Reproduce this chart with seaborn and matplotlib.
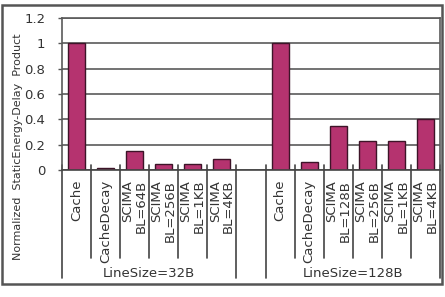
import matplotlib
matplotlib.use("Agg")
import matplotlib.pyplot as plt
import matplotlib.transforms as mtransforms
from matplotlib.patches import Rectangle
import seaborn as sns
import pandas as pd

# ---- data ----
groups = ["LineSize=32B", "LineSize=128B"]
categories_32 = ["Cache", "CacheDecay", "SCIMA\nBL=64B", "SCIMA\nBL=256B",
                 "SCIMA\nBL=1KB", "SCIMA\nBL=4KB"]
values_32 = [1.0, 0.012, 0.15, 0.047, 0.047, 0.084]
categories_128 = ["Cache", "CacheDecay", "SCIMA\nBL=128B", "SCIMA\nBL=256B",
                  "SCIMA\nBL=1KB", "SCIMA\nBL=4KB"]
values_128 = [1.0, 0.065, 0.35, 0.23, 0.23, 0.40]
y_ticks = [0, 0.2, 0.4, 0.6, 0.8, 1.0, 1.2]
y_tick_labels = ["0", "0.2", "0.4", "0.6", "0.8", "1", "1.2"]
y_label = "Normalized  StaticEnergy-Delay  Product"

# build table (unique keys per slot, with an empty slot between groups)
keys, labels, vals = [], [], []
for c, v in zip(categories_32, values_32):
    keys.append("32|" + c); labels.append(c); vals.append(v)
gap_key = "gap"
for c, v in zip(categories_128, values_128):
    keys.append("128|" + c); labels.append(c); vals.append(v)
df = pd.DataFrame({"key": keys, "label": labels, "value": vals})
order = keys[:len(categories_32)] + [gap_key] + keys[len(categories_32):]
order_labels = labels[:len(categories_32)] + [""] + labels[len(categories_32):]

sns.set_style("white")
plt.rcParams["font.family"] = ["DejaVu Sans"]

W, H = 445, 297
fig = plt.figure(figsize=(W / 100, H / 100), dpi=100)
ax = fig.add_axes([62 / W, 1 - 170 / H, (440 - 62) / W, (170 - 18) / H])

bar_color = "#B5336F"
sns.barplot(data=df, x="key", y="value", order=order, color=bar_color,
            width=0.58, edgecolor="#3d1428", linewidth=1.0, saturation=1,
            ax=ax)

ax.set_xlim(-0.5, len(order) - 0.5)
ax.set_ylim(0, 1.2)
ax.set_yticks(y_ticks)
ax.set_yticklabels(y_tick_labels, fontsize=9.5, color="#333333")
ax.yaxis.grid(True, color="#5a5a5a", linewidth=1.2)
ax.set_axisbelow(True)
ax.tick_params(axis="y", length=3, width=1, color="#555555", pad=9, left=True)
ax.set_xlabel("")
ax.set_ylabel("")

ax.set_xticks(range(len(order)))
ax.set_xticklabels(order_labels, rotation=90, va="top", ha="center",
                   multialignment="right", fontsize=9.5, color="#333333",
                   linespacing=1.05)
ax.tick_params(axis="x", length=0, pad=7)

for s in ax.spines.values():
    s.set_color("#5a5a5a")
    s.set_linewidth(1.2)
ax.spines["bottom"].set_color("#444444")

# category separator lines
trans = mtransforms.blended_transform_factory(ax.transData, ax.transAxes)
gap_idx = len(categories_32)
long_bounds = {-0.5, gap_idx - 0.5, gap_idx + 0.5, len(order) - 0.5}
for i in range(len(order) + 1):
    b = i - 0.5
    low = -0.711 if b in long_bounds else -0.579
    ax.plot([b, b], [0.035, low], transform=trans, color="#444444",
            linewidth=1.2, clip_on=False)

# group labels
centers = [(len(categories_32) - 1) / 2,
           gap_idx + 1 + (len(categories_128) - 1) / 2]
for g, cx in zip(groups, centers):
    ax.text(cx, -0.678, g, transform=trans, ha="center", va="center",
            fontsize=9.5, color="#333333")

fig.text(18 / W, 1 - 147 / H, y_label, rotation=90, ha="center", va="center",
         fontsize=8.0, color="#333333")

# outer chart border
fig.patches.append(Rectangle((2 / W, 1 - 284 / H), 440 / W, 279 / H,
                             transform=fig.transFigure, fill=False,
                             edgecolor="#555555", linewidth=1.8))

fig.savefig("out.png", dpi=100)
